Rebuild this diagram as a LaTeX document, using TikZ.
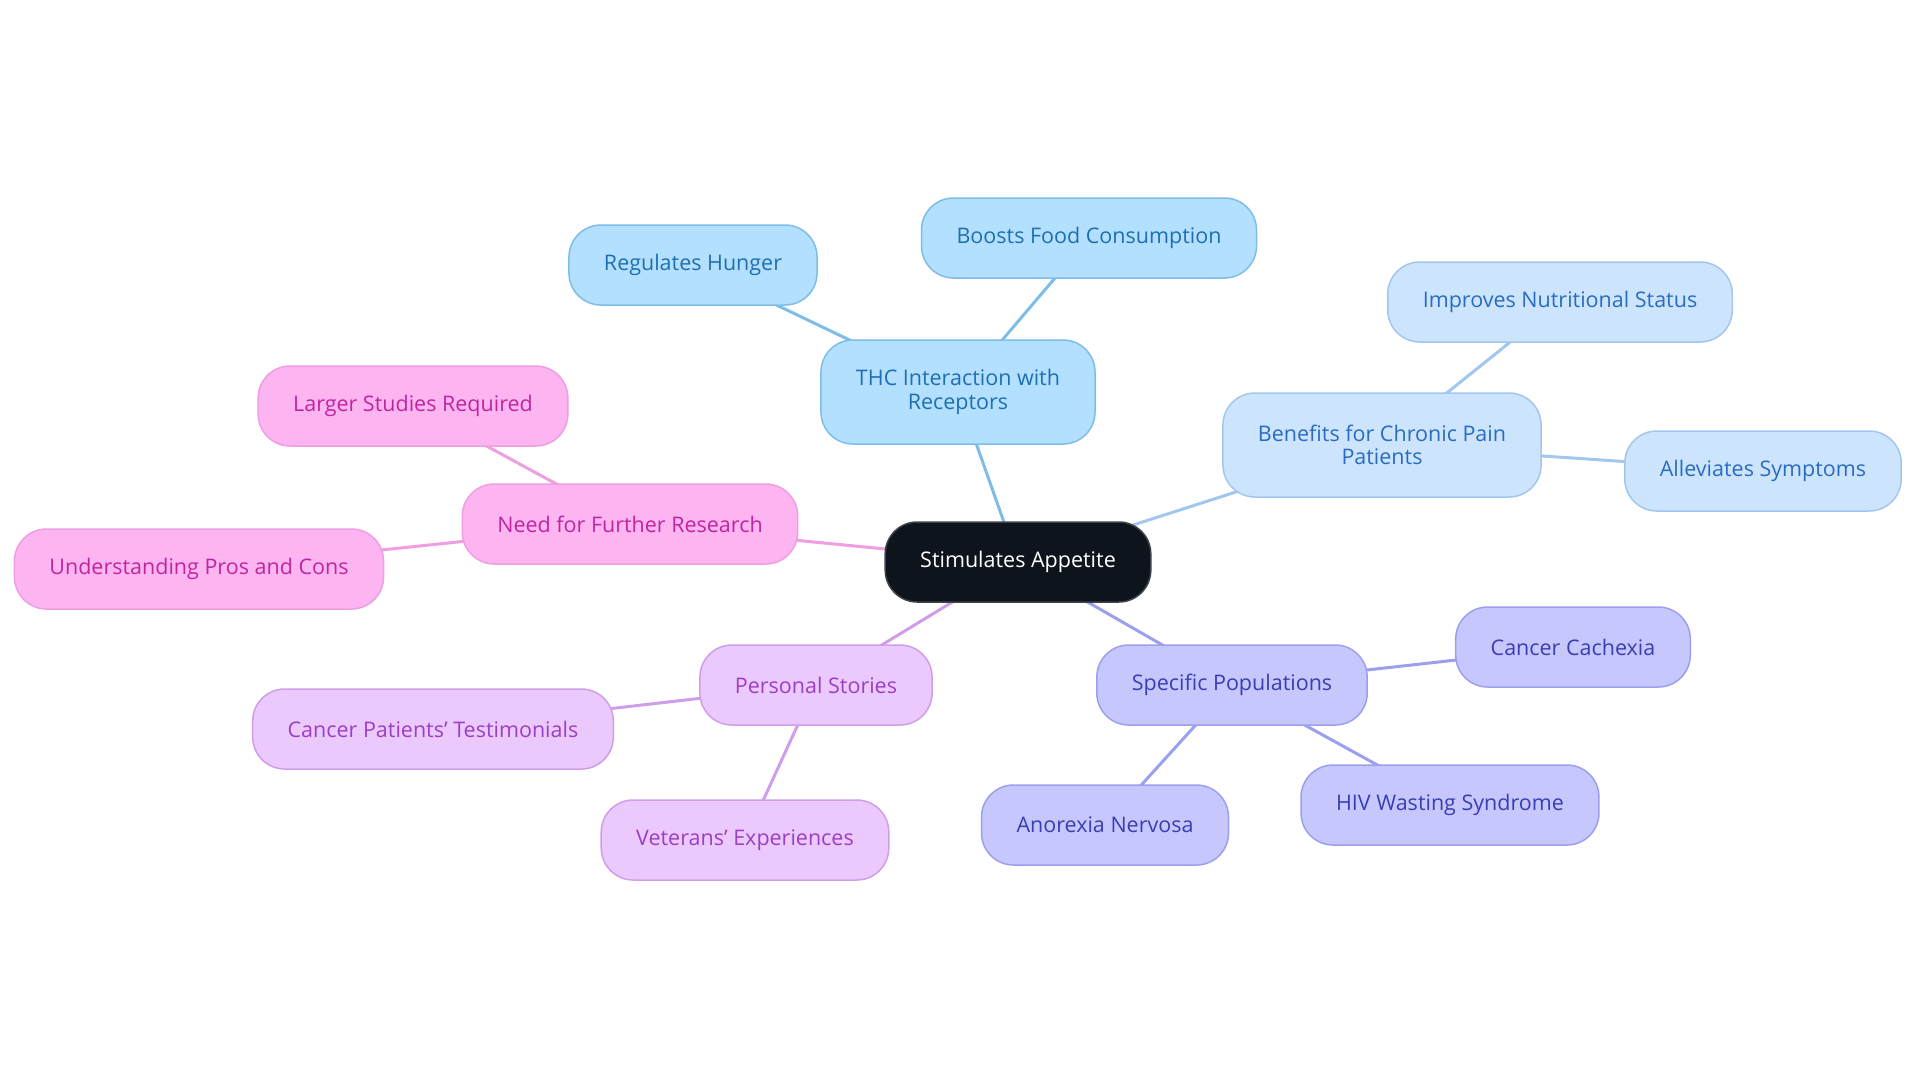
\documentclass[tikz,border=0pt]{standalone}
\usepackage{fontspec}
\setmainfont{Open Sans}
\usetikzlibrary{backgrounds}

\definecolor{rootfill}{HTML}{0D141B}
\definecolor{thcfill}{HTML}{B3E0FE}
\definecolor{thcline}{HTML}{7DBDE8}
\definecolor{thctext}{HTML}{1F6FB2}
\definecolor{painfill}{HTML}{CDE5FC}
\definecolor{painline}{HTML}{A3C6EE}
\definecolor{paintext}{HTML}{2A6CC2}
\definecolor{popfill}{HTML}{C6C8FD}
\definecolor{popline}{HTML}{9C9FEE}
\definecolor{poptext}{HTML}{3B3DB3}
\definecolor{storyfill}{HTML}{EBC9FD}
\definecolor{storyline}{HTML}{CE9EEB}
\definecolor{storytext}{HTML}{9B3FC4}
\definecolor{resfill}{HTML}{FDB5F1}
\definecolor{resline}{HTML}{EE9EE1}
\definecolor{restext}{HTML}{C0259F}

\begin{document}
\begin{tikzpicture}[x=0.5pt,y=-0.5pt,
	every node/.style={font=\fontsize{10.75}{11.75}\selectfont,rounded corners=16pt,
		minimum height=40pt,inner xsep=17.5pt,inner ysep=0pt,align=center,line width=0.75pt},
	idea/.style={fill=#1fill,draw=#1line,text=#1text},
	root/.style={fill=rootfill,draw=rootfill!80!white,text=white},
	tall/.style={minimum height=52pt},
	link/.style={#1line,line width=1.5pt}]
	\useasboundingbox (0,0) rectangle (1920,1083);

	%centre
	\node[root] (app) at (1018,562) {Stimulates Appetite};

	%THC branch
	\node[idea=thc,tall] (thc) at (958,392) {THC Interaction with\\Receptors};
	\node[idea=thc] (hunger) at (693,265) {Regulates Hunger};
	\node[idea=thc] (food) at (1089,238) {Boosts Food Consumption};

	%chronic pain branch
	\node[idea=pain,tall] (pain) at (1382,445) {Benefits for Chronic Pain\\Patients};
	\node[idea=pain] (nutri) at (1560,302) {Improves Nutritional Status};
	\node[idea=pain] (relief) at (1763,471) {Alleviates Symptoms};

	%populations branch
	\node[idea=pop] (pop) at (1232,685) {Specific Populations};
	\node[idea=pop] (cachexia) at (1573,647) {Cancer Cachexia};
	\node[idea=pop] (hiv) at (1450,805) {HIV Wasting Syndrome};
	\node[idea=pop] (anorexia) at (1105,825) {Anorexia Nervosa};

	%stories branch
	\node[idea=story] (story) at (816,685) {Personal Stories};
	\node[idea=story] (testim) at (433,729) {Cancer Patients' Testimonials};
	\node[idea=story] (vets) at (745,840) {Veterans' Experiences};

	%research branch
	\node[idea=res] (res) at (630,524) {Need for Further Research};
	\node[idea=res] (larger) at (413,406) {Larger Studies Required};
	\node[idea=res] (pros) at (199,569) {Understanding Pros and Cons};

	%links
	\begin{scope}[on background layer]
	\foreach \a/\b/\c in {app/thc/thc,thc/hunger/thc,thc/food/thc,
		app/pain/pain,pain/nutri/pain,pain/relief/pain,
		app/pop/pop,pop/cachexia/pop,pop/hiv/pop,pop/anorexia/pop,
		app/story/story,story/testim/story,story/vets/story,
		app/res/res,res/larger/res,res/pros/res}
	\draw[link=\c] (\a.center)--(\b.center);
	\end{scope}
\end{tikzpicture}
\end{document}
